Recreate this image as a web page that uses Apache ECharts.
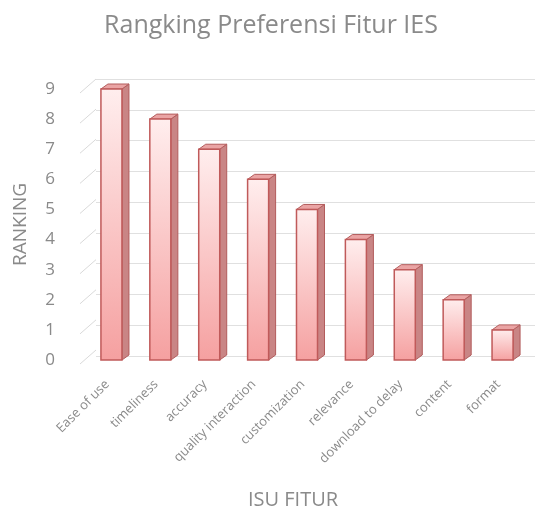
<!DOCTYPE html>
<html>
<head>
<meta charset="utf-8">
<script src="https://cdn.jsdelivr.net/npm/echarts@6/dist/echarts.min.js"></script>
<style>
html,body{margin:0;padding:0;background:#fff;}
#chart{width:540px;height:515px;}
</style>
</head>
<body>
<div id="chart"></div>
<script>
// data
var categories = ['Ease of use','timeliness','accuracy','quality interaction','customization','relevance','download to delay','content','format'];
var ranking = [9, 8, 7, 6, 5, 4, 3, 2, 1];
var yTicks = [0, 1, 2, 3, 4, 5, 6, 7, 8, 9];

var textGray = '#8a8a8a';
var fontName = '"Open Sans", "Noto Sans", sans-serif';

// 3D bar: front face + right side + top
function renderBar(params, api) {
    var top = api.coord([api.value(0), api.value(1)]);
    var base = api.coord([api.value(0), 0]);
    var w = api.size([1, 0])[0] * 0.43;
    var dx = 7, dy = 5;
    var x0 = top[0] - w / 2, x1 = top[0] + w / 2;
    var y0 = top[1], y1 = base[1];
    return {
        type: 'group',
        children: [
            {   // side
                type: 'polygon',
                shape: {points: [[x1, y0], [x1 + dx, y0 - dy], [x1 + dx, y1 - dy], [x1, y1]]},
                style: {fill: '#c98585', stroke: '#b25c5c', lineWidth: 1}
            },
            {   // top
                type: 'polygon',
                shape: {points: [[x0, y0], [x0 + dx, y0 - dy], [x1 + dx, y0 - dy], [x1, y0]]},
                style: {fill: '#eaa4a4', stroke: '#b25c5c', lineWidth: 1}
            },
            {   // front
                type: 'rect',
                shape: {x: x0, y: y0, width: w, height: y1 - y0},
                style: {
                    fill: new echarts.graphic.LinearGradient(0, 0, 0, 1, [
                        {offset: 0, color: '#ffeeee'},
                        {offset: 1, color: '#f5a0a0'}
                    ]),
                    stroke: '#c05a5a',
                    lineWidth: 1.5
                }
            }
        ]
    };
}

// side wall stubs for each tick
function renderStub(params, api) {
    var p = api.coord([0, api.value(0)]);
    var left = params.coordSys.x;
    return {
        type: 'line',
        shape: {x1: left - 7, y1: p[1] + 4, x2: left + 9, y2: p[1] - 10},
        style: {stroke: '#d9d9d9', lineWidth: 1}
    };
}

var myChart = echarts.init(document.getElementById('chart'));
myChart.setOption({
    animation: false,
    title: {
        text: 'Rangking Preferensi Fitur IES',
        left: 266,
        textAlign: 'center',
        top: 8,
        textStyle: {color: textGray, fontSize: 25, fontWeight: 'normal', fontFamily: fontName}
    },
    grid: [
        {left: 87, right: 13, top: 89, bottom: 149},
        {left: 96, right: 5, top: 79, bottom: 159}
    ],
    xAxis: [
        {
            type: 'category',
            gridIndex: 0,
            data: categories,
            name: 'ISU FITUR',
            nameLocation: 'middle',
            nameGap: 130,
            nameTextStyle: {color: textGray, fontSize: 20, fontFamily: fontName, padding: [0, 28, 0, 0]},
            axisLine: {show: false},
            axisTick: {show: false},
            axisLabel: {rotate: 45, color: textGray, fontSize: 13, margin: 18, padding: [0, 6, 0, 0], fontFamily: fontName, interval: 0}
        },
        {
            type: 'category',
            gridIndex: 1,
            data: categories,
            show: false
        }
    ],
    yAxis: [
        {
            type: 'value',
            gridIndex: 0,
            min: 0,
            max: 9,
            interval: 1,
            name: 'RANKING',
            nameLocation: 'middle',
            nameGap: 57,
            nameTextStyle: {color: textGray, fontSize: 19, fontFamily: fontName},
            axisLine: {show: false},
            axisTick: {show: false},
            splitLine: {show: false},
            axisLabel: {color: textGray, fontSize: 17, margin: 32, fontFamily: fontName}
        },
        {
            type: 'value',
            gridIndex: 1,
            min: 0,
            max: 9,
            interval: 1,
            axisLine: {show: false},
            axisTick: {show: false},
            axisLabel: {show: false},
            splitLine: {show: true, lineStyle: {color: '#e0e0e0', width: 1}}
        }
    ],
    series: [
        {
            type: 'custom',
            xAxisIndex: 0,
            yAxisIndex: 0,
            renderItem: renderStub,
            data: yTicks.map(function (v) { return [v]; }),
            silent: true,
            z: 1
        },
        {
            name: 'Ranking',
            type: 'custom',
            xAxisIndex: 0,
            yAxisIndex: 0,
            renderItem: renderBar,
            encode: {x: 0, y: 1},
            data: categories.map(function (c, i) { return [i, ranking[i]]; }),
            z: 3
        }
    ]
});
</script>
</body>
</html>
